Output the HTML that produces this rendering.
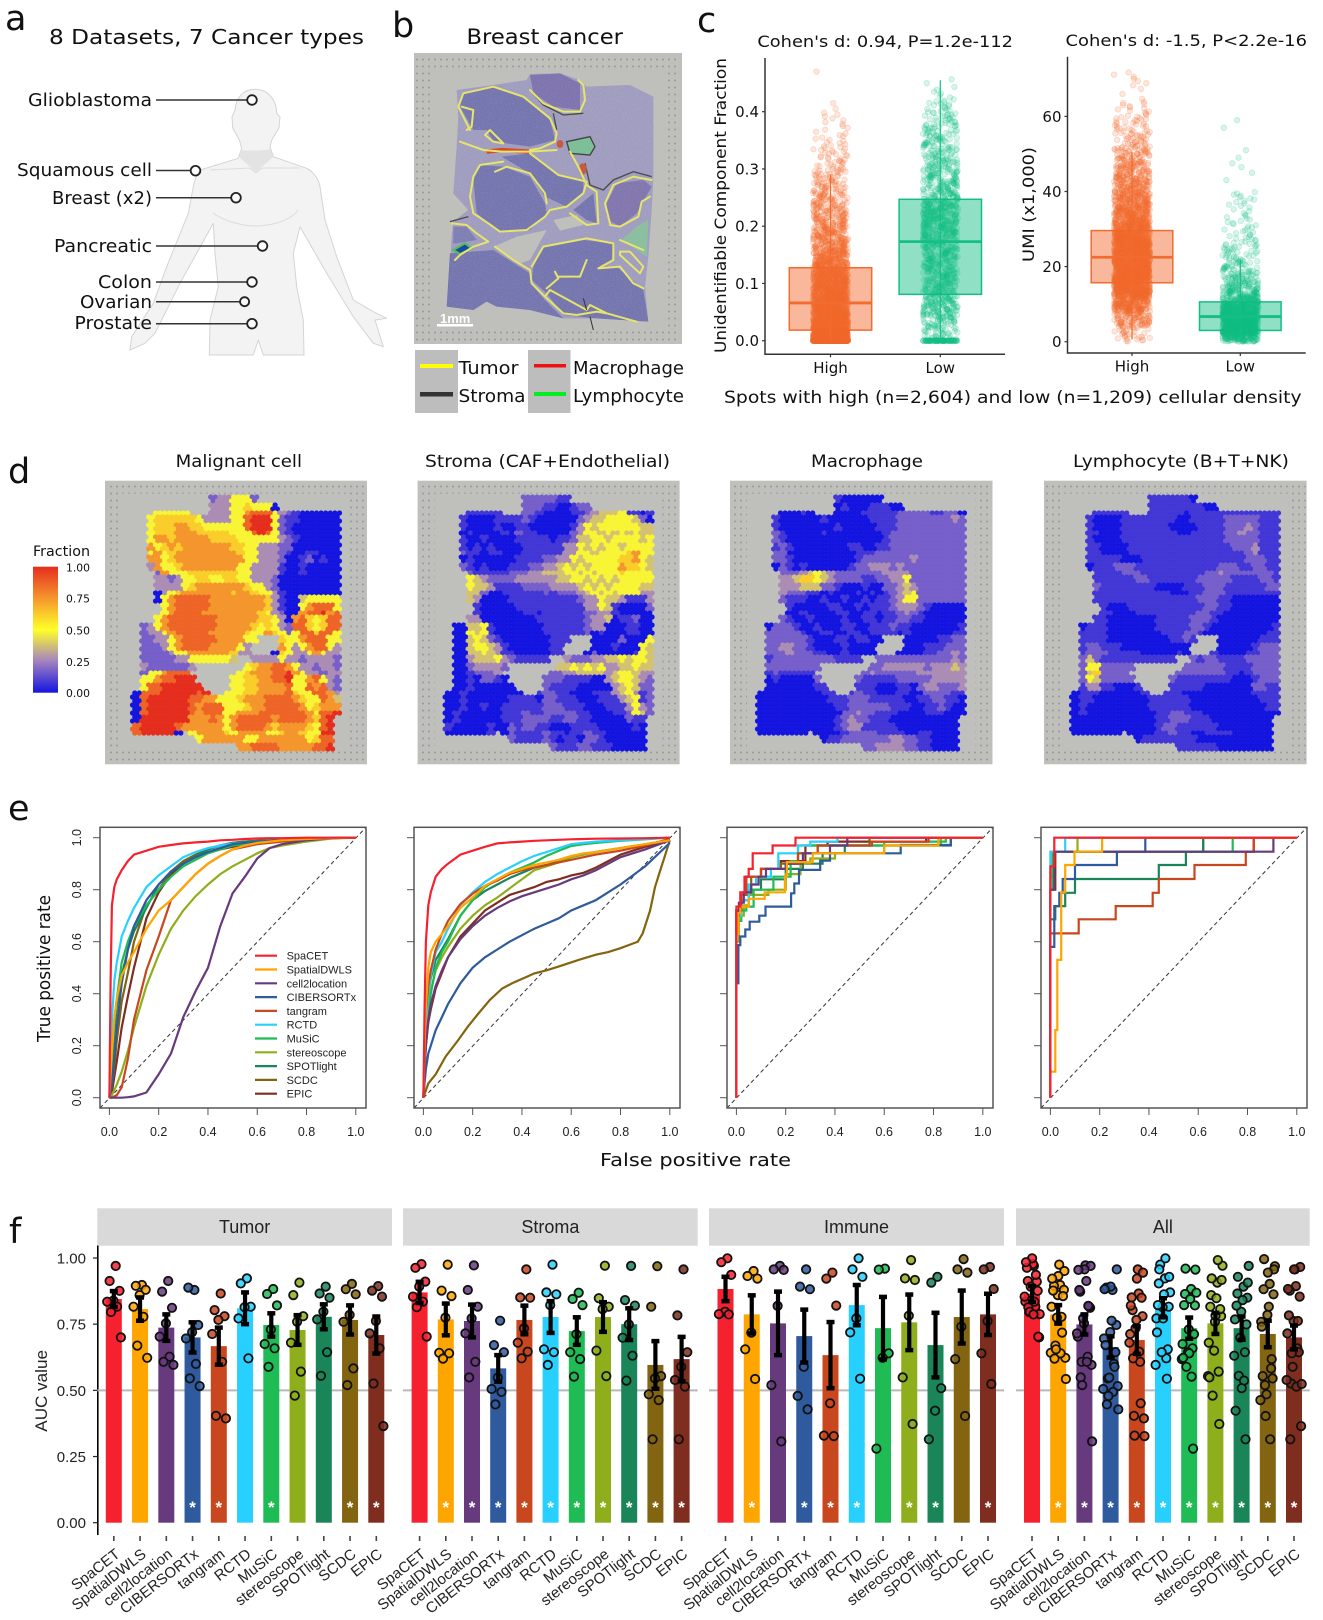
<!DOCTYPE html>
<html lang="en">
<head>
<meta charset="utf-8">
<title>SpaCET benchmark figure</title>
<style>
html,body{margin:0;padding:0;background:#fff;width:1323px;height:1620px;overflow:hidden}
svg{display:block}
.dj{font-family:"DejaVu Sans","Liberation Sans",sans-serif;fill:#111}
.ls{font-family:"Liberation Sans",sans-serif;fill:#222}
</style>
</head>
<body>
<svg id="figure" xmlns="http://www.w3.org/2000/svg" width="1323" height="1620" viewBox="0 0 1323 1620">
<defs>
<pattern id="spotdots" width="6" height="7" patternUnits="userSpaceOnUse"><circle cx="3" cy="3.500" r="1" fill="#9a9a98"/></pattern>
<linearGradient id="fracgrad" x1="0" y1="1" x2="0" y2="0">
<stop offset="0" stop-color="#1414e0"/><stop offset=".25" stop-color="#a482c0"/><stop offset=".5" stop-color="#ffff28"/><stop offset=".75" stop-color="#f5962d"/><stop offset="1" stop-color="#e52d1e"/>
</linearGradient>
<filter id="mottle" x="0" y="0" width="100%" height="100%">
<feTurbulence type="fractalNoise" baseFrequency=".45" numOctaves="2" seed="4" result="n"/>
<feColorMatrix in="n" type="matrix" values="0 0 0 0 .28  0 0 0 0 .26  0 0 0 0 .55  1.6 0 0 0 -.55" result="c"/>
<feComposite in="c" in2="SourceAlpha" operator="in"/>
</filter>
</defs>

<!-- panel letters -->
<g class="dj" font-size="35">
<text x="5" y="30">a</text>
<text x="392" y="37">b</text>
<text x="697" y="32">c</text>
<text x="8" y="483">d</text>
<text x="8" y="820">e</text>
<text x="9" y="1243">f</text>
</g>

<!-- panel a -->
<g>
<text class="dj" x="49" y="44" font-size="20" textLength="315" lengthAdjust="spacingAndGlyphs">8 Datasets, 7 Cancer types</text>
<path fill="#f3f3f3" stroke="#d4d4d4" stroke-width="1" stroke-linejoin="round" d="M255 89.300C268 89.300 276.700 100 276.700 113.300L280 117L279 128L271.700 140L270 146.700L273.300 156.700L306.700 168.300C314 172 319 180 320 186.700L325 220L336.700 256.700L353.300 300L373.300 311.700L386.700 318.300L375 320L383.300 346.700L373.300 343.300L353.300 316.700L326.700 273.300L300 226.700L293.300 253.300L296.700 286.700L303.300 320L304 355H263.300L258.300 340L253.300 355H209.300L210 320L218.300 286.700L215 253.300L213.300 223.300L180 283.300L155 333.300L145 343.300L130 350L131.700 336.700L153.300 303.300L166.700 266.700L188.300 213.300L193.300 186.700C195 178 198 173 200 170L238.300 158.300L241.700 148.300L239.300 140L232.700 128L232 117L235 110C236 98 243 89.300 255 89.300Z"/>
<path d="M240 150C246 151 264 151 270 149L273 157L256 172L240 158Z" fill="#e3e3e3"/>
<path d="M210 170L250 168L256 173L262 168L300 168M213 213C225 222 245 226 255 226C268 226 290 222 298 210" fill="none" stroke="#dcdcdc"/>
<g stroke="#333" stroke-width="1.5" fill="none">
<path d="M156 100H247"/>
<path d="M156 170.500H190.500"/>
<path d="M156 197.700H231"/>
<path d="M156 246H257.500"/>
<path d="M156 282H247"/>
<path d="M156 301.700H239.600"/>
<path d="M156 323.700H247"/>
</g>
<g fill="#fff" fill-opacity=".6" stroke="#222" stroke-width="1.8">
<circle cx="252" cy="100" r="4.800"/>
<circle cx="195.500" cy="170.700" r="4.800"/>
<circle cx="236" cy="197.700" r="4.800"/>
<circle cx="262.500" cy="246" r="4.800"/>
<circle cx="252" cy="282" r="4.800"/>
<circle cx="244.600" cy="301.700" r="4.500"/>
<circle cx="252" cy="323.700" r="4.800"/>
</g>
<g class="dj" font-size="18">
<text x="28" y="106" textLength="124" lengthAdjust="spacingAndGlyphs">Glioblastoma</text>
<text x="17" y="176" textLength="135" lengthAdjust="spacingAndGlyphs">Squamous cell</text>
<text x="52" y="204" textLength="100" lengthAdjust="spacingAndGlyphs">Breast (x2)</text>
<text x="54" y="252" textLength="98" lengthAdjust="spacingAndGlyphs">Pancreatic</text>
<text x="98" y="288" textLength="54" lengthAdjust="spacingAndGlyphs">Colon</text>
<text x="80" y="308" textLength="72" lengthAdjust="spacingAndGlyphs">Ovarian</text>
<text x="74.500" y="329" textLength="77.500" lengthAdjust="spacingAndGlyphs">Prostate</text>
</g>
</g>

<!-- panel b -->
<g>
<text class="dj" x="466.500" y="44" font-size="21" textLength="156.500" lengthAdjust="spacingAndGlyphs">Breast cancer</text>
<rect x="414" y="53" width="268" height="291" fill="#bfbfbb"/>
<rect x="416" y="55" width="264" height="287" fill="url(#spotdots)"/>
<rect x="432" y="71" width="232" height="256" fill="#bfbfbb"/>
<g transform="translate(430 70) scale(.33333)">
<path id="tissueOutline" fill="#a7a5bf" d="M80 60L190 45L290 30L300 12L390 10L450 30L470 50L600 45L670 80L670 320L665 420L655 560L645 650L655 755L500 745L400 745L300 720L200 710L170 695L130 720L50 710L60 600L65 500L70 455L115 420L70 370L80 230L85 140Z"/>
<g fill="#6f71aa">
<path d="M100 70L190 50L280 80L360 150L375 210L300 230L190 215L170 180L130 180L90 110Z"/>
<path d="M130 330L150 285L220 290L300 320L345 400L350 430L300 480L210 485L140 430Z"/>
<path d="M215 260L300 250L380 315L460 330L460 370L410 410L345 380L300 310Z"/>
<path d="M60 550L190 540L300 610L310 650L345 690L400 745L300 720L200 710L170 695L130 720L50 710Z"/>
<path d="M310 590L340 530L460 510L550 520L545 570L510 590L560 590L640 660L655 755L500 745L400 735L350 670L305 630Z"/>
<path d="M530 400L560 340L640 330L665 350L620 430L570 470L535 450Z" fill="#7f72a8"/>
<path d="M300 15L390 10L450 40L450 120L370 110L310 70Z" fill="#7c6fa8"/>
<path d="M70 470L110 470L140 510L80 520L70 520Z" fill="#7c7db0"/>
<path d="M430 420L490 370L500 460L470 450Z"/>
</g>
<path d="M80 60L190 45L290 30L300 12L390 10L450 30L470 50L600 45L670 80L670 320L665 420L655 560L645 650L655 755L500 745L400 745L300 720L200 710L170 695L130 720L50 710L60 600L65 500L70 455L115 420L70 370L80 230L85 140Z" filter="url(#mottle)"/>
<path d="M190 530L260 500L350 480L300 570L265 582L230 560Z" fill="#bfbfbb"/>
<path d="M370 450L440 435L460 465L390 482Z" fill="#bfbfbb"/>
<path d="M410 215L480 200L495 230L480 255L420 250Z" fill="#7cbf98" stroke="#444" stroke-width="4"/>
<path d="M575 510L650 560L655 450L620 470Z" fill="#8cbf9f"/>
<path d="M70 540L105 520L125 535L90 552Z" fill="#1a4aa0" stroke="#4fbf60" stroke-width="6"/>
<path d="M60 455L115 440M370 130L380 180M465 280L480 345L520 360L550 330L610 305L665 320M300 60L340 105L400 135L460 130" fill="none" stroke="#4a4a4a" stroke-width="4"/>
<path d="M170 245L215 240L300 245" fill="none" stroke="#d94a20" stroke-width="13"/>
<ellipse cx="390" cy="222" rx="10" ry="12" fill="#c85a45"/>
<ellipse cx="458" cy="297" rx="12" ry="17" fill="#c85a45"/>
<path fill="none" stroke="#e6e46a" stroke-width="6" stroke-linejoin="round" stroke-linecap="round" d="M120 180L85 110L100 70L190 50L280 80L360 145L380 190L375 215L330 235L300 240M95 110L130 120L125 170L110 180M300 60L340 100L400 125L450 125L465 90L460 45L445 30M90 215L160 240L215 245L300 245L380 240M165 195L180 180L220 220L190 215ZM195 305L230 290L300 310L345 370L350 400M130 320L120 380L130 430L175 460L210 485L290 480L345 440L360 420L410 410L460 370L470 335L385 315L300 250M150 285L130 320M150 285L220 275M420 245L445 290L470 345L500 365L505 460L470 465L420 430M540 460L525 400L550 345L610 320L665 330M540 465L570 470L625 440L635 395L660 380M65 460L110 465L140 490L175 515L130 530L90 555L75 570M195 530L250 570L300 600L305 640L345 680L400 730L440 735L500 725L530 730L620 755M305 590L340 530L470 505L550 520L550 570L505 595L570 590L610 640L640 655M375 605L385 625L350 655M385 620L450 620L470 570M345 680L360 660L470 720L480 705L530 730M570 545L600 545L640 590L630 610L570 555ZM570 510L640 540"/>
<path d="M460 685L470 720M480 740L490 780" fill="none" stroke="#333" stroke-width="3"/>
</g>
<text x="440" y="323" font-family="Liberation Sans, sans-serif" font-weight="bold" font-size="13" fill="#fff">1mm</text>
<rect x="437" y="324" width="36" height="2.500" fill="#fff"/>
<rect x="415" y="350" width="43" height="63" fill="#bdbdbd"/>
<rect x="528" y="350" width="42.500" height="63" fill="#bdbdbd"/>
<rect x="420" y="364" width="33" height="4" fill="#ffff00"/>
<rect x="420" y="392" width="33" height="4.500" fill="#333"/>
<rect x="534" y="364" width="32" height="3.500" fill="#ee1111"/>
<rect x="534" y="392" width="32" height="4" fill="#00ee22"/>
<g class="dj" font-size="18">
<text x="458.500" y="374" textLength="60" lengthAdjust="spacingAndGlyphs">Tumor</text>
<text x="458.500" y="402" textLength="67" lengthAdjust="spacingAndGlyphs">Stroma</text>
<text x="573" y="374" textLength="111" lengthAdjust="spacingAndGlyphs">Macrophage</text>
<text x="573" y="402" textLength="111" lengthAdjust="spacingAndGlyphs">Lymphocyte</text>
</g>
</g>

<!-- panel c -->
<g id="panelC">
<text class="dj" x="757.400" y="47" font-size="16" textLength="255.600" lengthAdjust="spacingAndGlyphs">Cohen's d: 0.94, P=1.2e-112</text>
<text class="dj" x="1065.500" y="46" font-size="16" textLength="241.500" lengthAdjust="spacingAndGlyphs">Cohen's d: -1.5, P&lt;2.2e-16</text>
<text class="dj" transform="translate(726 353) rotate(-90)" font-size="16" textLength="295" lengthAdjust="spacingAndGlyphs">Unidentifiable Component Fraction</text>
<text class="dj" transform="translate(1034 262) rotate(-90)" font-size="16" textLength="115" lengthAdjust="spacingAndGlyphs">UMI (x1,000)</text>
<text class="dj" x="724" y="403" font-size="17" textLength="577.600" lengthAdjust="spacingAndGlyphs">Spots with high (n=2,604) and low (n=1,209) cellular density</text>
</g>

<!-- panel d -->
<g id="panelD">
<g class="dj" font-size="16.500">
<text x="175.600" y="467" textLength="126.400" lengthAdjust="spacingAndGlyphs">Malignant cell</text>
<text x="425" y="467" textLength="245" lengthAdjust="spacingAndGlyphs">Stroma (CAF+Endothelial)</text>
<text x="811" y="467" textLength="112" lengthAdjust="spacingAndGlyphs">Macrophage</text>
<text x="1073" y="467" textLength="216" lengthAdjust="spacingAndGlyphs">Lymphocyte (B+T+NK)</text>
</g>
<text class="dj" x="33" y="556" font-size="14" textLength="57" lengthAdjust="spacingAndGlyphs">Fraction</text>
<rect x="33" y="566.700" width="25" height="126" fill="url(#fracgrad)"/>
<g class="dj" font-size="11">
<text x="66" y="571.500" textLength="24" lengthAdjust="spacingAndGlyphs">1.00</text>
<text x="66" y="602.500" textLength="24" lengthAdjust="spacingAndGlyphs">0.75</text>
<text x="66" y="634.500" textLength="24" lengthAdjust="spacingAndGlyphs">0.50</text>
<text x="66" y="666" textLength="24" lengthAdjust="spacingAndGlyphs">0.25</text>
<text x="66" y="697" textLength="24" lengthAdjust="spacingAndGlyphs">0.00</text>
</g>
</g>

<!-- panel e -->
<g id="panelE">
<text class="dj" transform="translate(50 1042) rotate(-90)" font-size="17.500" textLength="147" lengthAdjust="spacingAndGlyphs">True positive rate</text>
<text class="dj" x="600" y="1166" font-size="18" textLength="191" lengthAdjust="spacingAndGlyphs">False positive rate</text>
</g>

<!-- panel f -->
<g id="panelF">
<text class="ls" transform="translate(47 1431.700) rotate(-90)" font-size="17" textLength="81.700" lengthAdjust="spacingAndGlyphs">AUC value</text>
</g>

<script>
const NS = 'http://www.w3.org/2000/svg';

/* ---------- panel c data: spot counts per value bin, read from the jitter density ---------- */
const fractionHighBins = [680,300,270,230,200,180,150,120,90,80,65,55,45,35,28,18,16,10,6,6,2,0,0,1];
const fractionLowBins = [30,40,65,70,60,60,60,65,65,80,85,80,60,55,50,45,35,35,28,22,15,6,3];
const fractionHighZeroSpots = 400;
const fractionLowZeroSpots = 90;
const fractionBinWidths = [0.02,0.02];
const umiHighBins = [30,90,190,350,340,300,340,260,190,150,115,85,60,35,25,14,3,7];
const umiLowBins = [110,240,190,170,140,90,60,45,35,25,20,15,15,10,8,7,6,4,6,6,0,1,1,2,1,1,0,0,1,1];
const umiBinWidths = [4,2];
const boxCategories = ['High','Low'];
const fractionBoxStats = [[0,0.0185,0.066,0.1275,0.29],[0,0.081,0.173,0.247,0.455]];
const umiBoxStats = [[0.6,15.7,22.5,29.6,50.6],[0.8,3,6.7,10.6,21.8]];
const fractionTicks = [0,0.1,0.2,0.3,0.4];
const umiTicks = [0,20,40,60];

/* ---------- panel d data: coarse spatial grids, digit indexes digitFractions ---------- */
const digitFractions = [0,.08,.17,.27,.38,.48,.62,.75,.87,1];
const tissueMask = [
"...........#######............",
"...........##########.........",
"...#####...###################",
"..############################",
"..############################",
"..############################",
"..############################",
"..############################",
"..############################",
"..############################",
"..############################",
"...###########################",
"...###########################",
"...###########################",
"...###########################",
"...###########################",
"....##########################",
"....##########################",
"...###########################",
".#############################",
".#############################",
".#################...#########",
".################....#########",
".################...##########",
".##############..#############",
".########.......##############",
".#######.......###############",
".########.....################",
".#########....################",
"###########..#################",
"##############################",
"##############################",
"##############################",
"#############################.",
"#############################.",
"#######.#####################.",
".........####################.",
"...............##############."];
const malignantMap = [
"000000000002335552000000000000",
"000000000003335565550000000000",
"000555550003335578885321000000",
"005666666533335589995211000000",
"005666776655555589995210000000",
"005666777666665558985210000000",
"005776777776666555555321000000",
"007567677777776655333220000000",
"005756777777777655333210011000",
"007756777777777755333200120100",
"003755677777777553333100100000",
"000275556666666553333100100000",
"000332355665566553332000000000",
"000333356777777765532000000000",
"000035677777776776553100000000",
"000057888887777777763100455555",
"000057888887777777763100578885",
"000657888877777777653200788978",
"000578888888777777665307865688",
"023578888888777776565328865688",
"023357888887777765576525886885",
"022335788888777755007655788855",
"022235788887777530000753578853",
"022223557777776330000653357533",
"022222335555554433333533233332",
"032222223000000056778875332332",
"025578880000000567778897533233",
"055788999000005566778895578532",
"058899999900005566777785587832",
"088899999890055566777786558873",
"089999998877555677788887655874",
"089999998788855567788888756777",
"089999998788855777888888875889",
"099999997778757888887888876899",
"899999877777757888876777765899",
"899999005777765777755677655999",
"000000000577777755777777756889",
"000000000000000778888777778899"];
const stromaMap = [
"000000000002222211000000000000",
"000000000002221100122000000000",
"000111110002210000112344451101",
"001000011112100000023445555420",
"001000010011000000135455555544",
"000100001021100000235545454544",
"001001000011111011244554555545",
"001010100001111113354545545555",
"002110110001111113355455556755",
"000100000011112233545555566754",
"002101000111223345454555576654",
"003211111222334445545455565555",
"004543222233333344554545455555",
"005544311112222333345454555544",
"004442001111112122234545455533",
"002430000111111111123354431113",
"001310000011111111113354100002",
"000310000001101111112233100000",
"000330000000011111112334011200",
"000445100000001111112330001100",
"000545100000001111112010001100",
"000454210000000111010000020005",
"000455431000000111000000100054",
"000445431100000110000200000154",
"000344453211111223222334454554",
"000233332000000044545453344544",
"000122230000000223344443455433",
"000102210000012221111003455432",
"000100000000012111100000345422",
"001000000000012211000111345312",
"001000000111102211100011134512",
"001001001111112221110001113532",
"010000001112112222211000112542",
"010000001112222112211000002112",
"100000100212211000111100000100",
"000000100211112110112110000000",
"000000000211112101102210000000",
"000000000000000211122111000000"];
const macrophageMap = [
"000000000001000000000000000000",
"000000000000100011100000000000",
"000000100010000111112222211220",
"001000000100000011112222222232",
"001000000001000001112222222222",
"002100000100000000122222222222",
"002100000000000000122222222222",
"001210000000011001122222222222",
"002200000000001112222222222222",
"002210000000001222222232222222",
"000210100000012233323222222222",
"000222345432222222333322222222",
"003334665432222112233522222222",
"002333444221000100223432222222",
"000322211010001010123452222222",
"000211100100100101123552222222",
"000210000011001011123332100000",
"000100100001100110112321000000",
"000210010000100110112211000000",
"002221001000110011121100000001",
"022222100110011011110100000011",
"022222210001101100110000001122",
"022332210000100000000000111222",
"022232221100100000000000112232",
"012222222221111222222222222232",
"022222222222222322333333233343",
"012111112222222232222223333333",
"001000002222212111112222233333",
"000000001112111110001102332223",
"000000000111212110001100222211",
"000000000011122211111001122110",
"000000000001122222211100112100",
"000000000000223221110000111000",
"000000000001232211100000000000",
"000000000001233111110000000000",
"000000000000122221111001100000",
"000000000011222222233221100000",
"000000000000000223333221100000"];
const lymphocyteMap = [
"000000000001111110000000000000",
"000000000001111111100000000000",
"000111110001111101111111111111",
"001000011111111001111122222111",
"001000011111110000111122232111",
"001100011111111001111122322111",
"001000011111111111111122222111",
"001100001111111111111112223111",
"001100001111111111111111123111",
"001111100011111111111111122211",
"000111222111111111111222112211",
"001111122211111111122322222221",
"001111111221111111222221111221",
"001211111111000011122211111122",
"000111111111110001122211111111",
"000111111111111111222110000000",
"000110001111111111122110000000",
"000011000111111111221100000000",
"000110000000111112221000000000",
"001110000000111112210000000001",
"011110000000011122100000000011",
"011110000000001121000000000111",
"012211100000000000001000001222",
"012221111100000100011000011222",
"024211111111111222122111122222",
"025522222111111122222211112222",
"024622222222222222222211012222",
"025422222222222111111110001222",
"013311000111211111100000002211",
"011100000011111100000000001111",
"011000000001111110000000000111",
"010000000001111110000000000011",
"010000000000112211100000000000",
"000000000000112221110000000000",
"000000000000122111111000000000",
"000000000000112110011110000000",
"000000000011111111000000000000",
"000000000000000111111000000000"];

/* ---------- methods ---------- */
const methods = ['SpaCET','SpatialDWLS','cell2location','CIBERSORTx','tangram','RCTD','MuSiC','stereoscope','SPOTlight','SCDC','EPIC'];
const methodColors = ['#f6212f','#ffa500','#673a7d','#2f5a9e','#c8471f','#28d0ff','#1fbb55','#8fae1b','#198559','#836410','#7e2d1f'];

/* ---------- panel e data ---------- */
const rocFprGrid = [0,.005,.01,.02,.03,.05,.075,.1,.15,.2,.25,.3,.35,.4,.45,.5,.55,.6,.65,.7,.8,.9,1];
const rocTprPlot1 = [
[0,.45,.74,.81,.84,.875,.91,.935,.95,.965,.972,.978,.982,.985,.99,.992,.995,.997,.998,.998,1,1,1],
[0,.1,.18,.3,.38,.47,.52,.56,.65,.72,.76,.81,.86,.9,.93,.955,.97,.98,.985,.99,.995,.999,1],
[0,0,0,0,0,0,.002,.005,.02,.09,.17,.31,.41,.5,.66,.786,.85,.92,.96,.975,.99,.998,1],
[0,.02,.05,.15,.27,.44,.57,.66,.76,.82,.87,.9,.925,.945,.96,.975,.98,.985,.988,.99,.995,.999,1],
[0,0,0,.005,.01,.04,.15,.3,.49,.62,.76,.81,.86,.9,.93,.955,.965,.975,.98,.985,.993,.999,1],
[0,.15,.3,.45,.52,.62,.68,.73,.81,.855,.89,.925,.945,.96,.97,.977,.98,.985,.988,.99,.995,.999,1],
[0,.08,.15,.3,.38,.52,.6,.66,.74,.8,.85,.89,.915,.94,.955,.97,.975,.98,.985,.99,.995,.999,1],
[0,.005,.01,.03,.05,.1,.18,.27,.43,.55,.65,.72,.775,.82,.86,.89,.915,.94,.96,.97,.985,.997,1],
[0,.05,.12,.25,.35,.47,.57,.64,.73,.82,.87,.9,.93,.955,.97,.98,.985,.988,.99,.992,.995,.999,1],
[0,.02,.05,.12,.22,.37,.48,.6,.74,.8,.87,.91,.935,.955,.97,.98,.985,.988,.99,.992,.995,.999,1],
[0,.005,.02,.08,.14,.27,.39,.5,.69,.79,.86,.9,.925,.945,.955,.965,.975,.98,.985,.99,.995,.999,1]];
const rocTprPlot2 = [
[0,.35,.6,.74,.79,.85,.88,.9,.935,.95,.965,.978,.982,.985,.988,.99,.992,.994,.995,.996,.997,.998,1],
[0,.2,.35,.5,.56,.6,.63,.66,.73,.77,.815,.84,.865,.88,.895,.905,.915,.93,.94,.945,.96,.975,.99],
[0,.1,.2,.3,.36,.43,.49,.54,.61,.66,.7,.73,.755,.775,.79,.805,.82,.84,.855,.875,.925,.955,.99],
[0,.06,.11,.17,.2,.26,.31,.36,.44,.5,.54,.57,.6,.625,.65,.67,.69,.72,.74,.76,.82,.89,.98],
[0,.2,.33,.43,.49,.57,.63,.68,.745,.785,.815,.835,.86,.875,.885,.895,.905,.915,.925,.935,.95,.97,.995],
[0,.15,.28,.4,.47,.56,.6,.65,.74,.79,.83,.86,.885,.91,.93,.945,.96,.975,.98,.985,.99,.995,1],
[0,.12,.22,.33,.4,.5,.56,.6,.7,.76,.81,.84,.865,.885,.905,.93,.95,.968,.975,.98,.988,.994,1],
[0,.15,.25,.35,.41,.49,.54,.58,.65,.7,.74,.77,.805,.84,.875,.89,.905,.925,.935,.945,.96,.975,.99],
[0,.18,.3,.4,.46,.53,.57,.61,.7,.76,.795,.82,.845,.865,.885,.895,.91,.925,.935,.945,.96,.975,.99],
[],
[0,.12,.2,.29,.34,.42,.48,.54,.62,.67,.72,.75,.78,.795,.81,.83,.84,.855,.865,.885,.935,.965,.99]];
const rocScdcFprPlot2 = [0,.02,.05,.09,.14,.18,.22,.27,.32,.36,.42,.45,.5,.55,.63,.7,.75,.8,.87,.89,.92,.94,.96,.98,1];
const rocScdcTprPlot2 = [0,.055,.09,.158,.22,.273,.32,.376,.42,.44,.465,.478,.49,.505,.53,.55,.56,.575,.6,.632,.72,.81,.87,.93,.99];
const rocStepFprPlot3 = [
[0,.016,.033,.05,.066,.147,.24],
[0,.008,.016,.05,.115,.197,.205,.31,.6,.82],
[0,.01,.03,.06,.09,.12,.2,.27,.38,.45],
[0,.008,.016,.036,.054,.093,.118,.222,.235,.254,.34,.38,.667,.87],
[0,.02,.04,.1,.2,.25,.33,.55,.78],
[0,.02,.05,.08,.14,.17,.25,.3,.41],
[0,.02,.04,.07,.15,.22,.25,.6,.85],
[0,.01,.03,.05,.13,.2,.26,.3,.4,.6,.83],
[0,.02,.05,.1,.2,.27,.35,.44,.87],
[0,.02,.06,.1,.18,.25,.33,.54],
[0,.02,.04,.1,.18,.28,.37,.77]];
const rocStepTprPlot3 = [
[.735,.79,.85,.88,.94,.97,1],
[.63,.71,.735,.765,.79,.85,.906,.94,.97,1],
[.7,.75,.79,.82,.85,.88,.9,.94,.97,1],
[.44,.587,.62,.647,.677,.7,.735,.786,.824,.876,.912,.94,.972,1],
[.72,.78,.85,.88,.9,.94,.97,.985,1],
[.7,.76,.82,.85,.88,.94,.97,.985,1],
[.68,.72,.735,.8,.85,.91,.97,.985,1],
[.6,.7,.74,.78,.8,.86,.9,.92,.94,.97,1],
[.72,.76,.8,.84,.88,.9,.94,.97,1],
[.72,.78,.85,.88,.9,.94,.97,1],
[.72,.78,.85,.88,.91,.97,.985,1]];
const rocStepFprPlot4 = [
[0,.016],
[0,.02,.028,.044,.06,.098,.21],
[0,.016,.905],
[0,.016,.036,.05,.1,.27,.385],
[0,.115,.265,.415,.44,.585,.793,.825],
[0,.06],
[0,.01,.74],
[0,.01,.11],
[0,.02,.06,.1,.44,.55,.62],
[0,.01,.62],
[0,.02,.825]];
const rocStepTprPlot4 = [
[.89,1],
[.1,.26,.53,.79,.895,.946,1],
[.8,.946,1],
[.58,.737,.788,.841,.895,.946,1],
[.632,.686,.737,.788,.841,.895,.946,1],
[.946,1],
[.8,.946,1],
[.85,.946,1],
[.686,.737,.788,.841,.895,.946,1],
[.8,.946,1],
[.8,.946,1]];
const rocTicks = [0,.2,.4,.6,.8,1];

/* ---------- panel f data ---------- */
const facetNames = ['Tumor','Stroma','Immune','All'];
const aucTicks = [0,.25,.5,.75,1];
const tumorMeans = [.845,.807,.737,.70,.667,.81,.747,.728,.778,.766,.709];
const stromaMeans = [.87,.768,.762,.583,.766,.777,.724,.777,.75,.596,.618];
const immuneMeans = [.883,.787,.753,.705,.633,.822,.735,.757,.671,.777,.787];
const allMeans = [.864,.787,.749,.664,.69,.812,.735,.753,.735,.713,.70];
const tumorErrors = [.03,.044,.05,.057,.07,.06,.044,.056,.047,.055,.07];
const stromaErrors = [.04,.06,.062,.05,.054,.06,.052,.056,.06,.09,.084];
const immuneErrors = [.046,.072,.12,.1,.125,.076,.118,.105,.122,.10,.078];
const allErrors = [.03,.035,.038,.04,.052,.036,.04,.04,.044,.05,.045];
const tumorStars = [0,0,0,1,1,0,1,0,0,1,1];
const stromaStars = [0,1,1,1,1,1,1,1,1,1,1];
const immuneStars = [0,1,0,1,1,1,0,1,1,0,1];
const allStars = [0,1,1,1,1,1,1,1,1,1,1];
const tumorDots = [
[.97,.913,.876,.839,.835,.816,.796,.70],
[.898,.895,.88,.86,.816,.778,.669,.623],
[.913,.873,.812,.753,.703,.627,.608,.596],
[.879,.888,.747,.72,.696,.6,.545,.516],
[.866,.803,.78,.766,.713,.608,.404,.394],
[.923,.904,.816,.814,.772,.621],
[.883,.864,.821,.73,.675,.659,.589],
[.907,.86,.78,.759,.68,.571,.48],
[.892,.866,.85,.797,.768,.644,.555],
[.902,.882,.863,.785,.759,.583,.52],
[.894,.877,.854,.762,.715,.659,.526,.365]];
const stromaDots = [
[.977,.963,.911,.892,.854,.835,.814,.703],
[.975,.877,.856,.775,.642,.64,.62],
[.972,.879,.816,.772,.715,.608,.549],
[.763,.671,.644,.548,.505,.494,.447],
[.957,.851,.85,.734,.68,.646,.621],
[.975,.87,.863,.822,.655,.644,.596],
[.869,.845,.822,.712,.644,.618,.552],
[.971,.848,.816,.807,.65,.554],
[.97,.841,.82,.749,.699,.631,.537],
[.969,.816,.554,.545,.485,.463,.315],
[.957,.783,.644,.589,.539,.514,.315]];
const immuneDots = [
[.999,.984,.936,.797,.788,.787],
[.951,.932,.922,.718,.655,.543],
[.97,.957,.955,.819,.52,.307],
[.957,.892,.882,.589,.479,.428],
[.945,.922,.82,.451,.329,.327],
[.999,.957,.929,.772,.719,.544],
[.96,.956,.64,.623,.28],
[.992,.923,.917,.782,.549,.373],
[.929,.907,.508,.423,.315],
[.996,.957,.945,.741,.618,.403],
[.966,.957,.883,.762,.64,.524]];

/* ---------- helpers ---------- */
function mk(tag, attrs, name, parent){
  const el = document.createElementNS(NS, tag);
  for (const k in attrs) el.setAttribute(k, attrs[k]);
  
  
  parent.appendChild(el);
  return el;
}
function label(str, attrs, name, parent){
  const t = mk('text', attrs, name, parent);
  t.textContent = str;
  return t;
}
function slug(s){ return String(s).toLowerCase().replace(/[^a-z0-9]+/g,'-'); }
function frac(v){ return v - Math.floor(v); }
/* deterministic horizontal jitter for a dot index; positions only, never values */
function scatter(n){ return frac(Math.sin(n * 12.9898 + 4.1) * 43758.5453); }

/* ---------- panel c ---------- */
function drawBoxPlot(cfg){
  const root = document.getElementById('panelC');
  const g = mk('g', {}, cfg.name, root);
  const y = v => cfg.y0 - v * cfg.yPerUnit;
  const colors = ['#f26b2f','#14bf85'];
  cfg.stats.forEach((s, i) => {
    const cx = cfg.centers[i], c = colors[i], group = slug(boxCategories[i]);
    const gg = mk('g', {}, cfg.name + '-group-' + group, g);
    mk('rect', {x:cx-cfg.halfBox, y:y(s[3]), width:cfg.halfBox*2, height:y(s[1])-y(s[3]), fill:c, 'fill-opacity':.48, stroke:c, 'stroke-width':1.5}, 'box-' + group, gg);
    let n = 0;
    const dots = mk('g', {fill:c, 'fill-opacity':.17, stroke:c, 'stroke-opacity':.24, 'stroke-width':.7}, 'jitter-dots-' + group, gg);
    const place = v => {
      const off = (scatter(n + i * 5000) - .5) * 2 * cfg.halfJitter;
      mk('circle', {cx:(cx+off).toFixed(1), cy:y(v).toFixed(1), r:2.8}, 'spot-dot', dots);
      n++;
    };
    for (let z = 0; z < cfg.zeros[i]; z++) place(0);
    cfg.bins[i].forEach((count, b) => {
      for (let k = 0; k < count; k++) place((b + (k + .5) / count) * cfg.binWidths[i]);
    });
    mk('line', {x1:cx, x2:cx, y1:y(s[0]), y2:y(s[4]), stroke:c, 'stroke-width':1.2}, 'whisker-' + group, gg);
    mk('line', {x1:cx-cfg.halfBox, x2:cx+cfg.halfBox, y1:y(s[2]), y2:y(s[2]), stroke:c, 'stroke-width':2.8}, 'median-' + group, gg);
  });
  mk('path', {d:`M${cfg.axisX} ${cfg.top}V${cfg.bottom}H${cfg.right}`, fill:'none', stroke:'#333', 'stroke-width':1.5}, cfg.name + '-axes', g);
  cfg.ticks.forEach(t => {
    mk('line', {x1:cfg.axisX-3, x2:cfg.axisX, y1:y(t), y2:y(t), stroke:'#333', 'stroke-width':1.2}, 'y-tick', g);
    label(cfg.fmt(t), {x:cfg.axisX-6, y:y(t)+5.5, 'text-anchor':'end', 'font-size':15, class:'dj'}, 'y-tick-label', g);
  });
  boxCategories.forEach((c, i) => {
    mk('line', {x1:cfg.centers[i], x2:cfg.centers[i], y1:cfg.bottom, y2:cfg.bottom+3, stroke:'#333', 'stroke-width':1.2}, 'x-tick', g);
    label(c, {x:cfg.centers[i], y:cfg.bottom+18.5, 'text-anchor':'middle', 'font-size':15, class:'dj'}, 'x-tick-label-' + slug(c), g);
  });
}
drawBoxPlot({name:'boxplot-fraction', y0:340.7, yPerUnit:572.5, centers:[830.5,940.3], halfBox:41.2, halfJitter:17.5,
  stats:fractionBoxStats, bins:[fractionHighBins,fractionLowBins], zeros:[fractionHighZeroSpots,fractionLowZeroSpots], binWidths:fractionBinWidths,
  axisX:765, top:58, bottom:354.3, right:1005, ticks:fractionTicks, fmt:v=>v.toFixed(1)});
drawBoxPlot({name:'boxplot-umi', y0:341.7, yPerUnit:3.755, centers:[1132,1240.3], halfBox:40.8, halfJitter:18,
  stats:umiBoxStats, bins:[umiHighBins,umiLowBins], zeros:[0,0], binWidths:umiBinWidths,
  axisX:1067.5, top:56.7, bottom:353, right:1305.7, ticks:umiTicks, fmt:v=>String(v)});

/* ---------- panel d ---------- */
const fractionStops = [[20,20,224],[164,130,192],[255,255,40],[245,150,45],[229,45,30]];
function fractionColor(v){
  const p = Math.min(3.999, v * 4), i = Math.floor(p), t = p - i;
  const a = fractionStops[i], b = fractionStops[i+1];
  return `rgb(${Math.round(a[0]+(b[0]-a[0])*t)},${Math.round(a[1]+(b[1]-a[1])*t)},${Math.round(a[2]+(b[2]-a[2])*t)})`;
}
function drawSpatial(name, map, ox, w){
  const root = document.getElementById('panelD');
  const g = mk('g', {}, 'spatial-map-' + name, root);
  const oy = 480.7, h = 283.6;
  mk('rect', {x:ox, y:oy, width:w, height:h, fill:'#bfbfbb'}, 'slide-background', g);
  mk('rect', {x:ox+1, y:oy+1, width:w-2, height:h-2, fill:'url(#spotdots)'}, 'slide-fiducial-dots', g);
  mk('rect', {x:ox+17, y:oy+13, width:w-34, height:h-26, fill:'#bfbfbb'}, 'slide-inner-area', g);
  const spots = mk('g', {}, name + '-spots', g);
  const colW = 6.93, rowH = 6.66, dx = 27.5, dy = 16.3;
  for (let row = 0, yy = 0; yy < 254; row++, yy += 4) {
    for (let xx = (row % 2) * 2.3; xx < 208; xx += 4.6) {
      const r = Math.floor(yy / rowH), c = Math.floor(xx / colW);
      if (!tissueMask[r] || tissueMask[r][c] !== '#') continue;
      const v = digitFractions[Number(map[r][c])];
      mk('circle', {cx:(ox+dx+xx).toFixed(1), cy:(oy+dy+yy).toFixed(1), r:2.6, fill:fractionColor(v)}, 'spot', spots);
    }
  }
}
drawSpatial('malignant', malignantMap, 105, 262);
drawSpatial('stroma', stromaMap, 417.6, 262);
drawSpatial('macrophage', macrophageMap, 730, 262.5);
drawSpatial('lymphocyte', lymphocyteMap, 1044, 262.6);

/* ---------- panel e ---------- */
function drawRoc(idx, left, fprFor, tprFor, stepped, showY){
  const root = document.getElementById('panelE');
  const g = mk('g', {}, 'roc-plot-' + (idx+1), root);
  const x0 = left + 9.4, top = 837.7, bottom = 1097.7, pxX = 246.4, pxY = 260;
  const x = v => x0 + v * pxX, y = v => bottom - v * pxY;
  const boxR = left + 266, boxT = 827.3, boxB = 1108;
  mk('line', {x1:left, y1:boxB, x2:boxR, y2:boxT, stroke:'#333', 'stroke-width':1, 'stroke-dasharray':'4 3'}, 'chance-diagonal', g);
  for (let m = methods.length - 1; m >= 0; m--) {
    const fs = fprFor(m), ts = tprFor(m);
    let d = stepped ? `M${x(0)} ${y(0)}` : '';
    fs.forEach((f, i) => {
      if (stepped) {
        d += `L${x(f).toFixed(1)} ${y(i ? ts[i-1] : 0).toFixed(1)}L${x(f).toFixed(1)} ${y(ts[i]).toFixed(1)}`;
      } else {
        d += `${i ? 'L' : 'M'}${x(f).toFixed(1)} ${y(ts[i]).toFixed(1)}`;
      }
    });
    if (stepped) d += `L${x(1)} ${y(1)}`;
    mk('path', {d, fill:'none', stroke:methodColors[m], 'stroke-width':2.2, 'stroke-linejoin':'miter'}, 'roc-curve-' + slug(methods[m]), g);
  }
  mk('rect', {x:left, y:boxT, width:266, height:boxB-boxT, fill:'none', stroke:'#555', 'stroke-width':1.5}, 'roc-frame', g);
  rocTicks.forEach(t => {
    mk('line', {x1:x(t), x2:x(t), y1:boxB, y2:boxB+7, stroke:'#555', 'stroke-width':1}, 'x-tick', g);
    label(t.toFixed(1), {x:x(t), y:1136, 'text-anchor':'middle', 'font-size':12.5, class:'ls'}, 'x-tick-label', g);
    mk('line', {x1:left-7, x2:left, y1:y(t), y2:y(t), stroke:'#555', 'stroke-width':1}, 'y-tick', g);
    if (showY) label(t.toFixed(1), {transform:`translate(81 ${y(t)}) rotate(-90)`, 'text-anchor':'middle', 'font-size':12.5, class:'ls'}, 'y-tick-label', g);
  });
  return g;
}
const plot1 = drawRoc(0, 100, () => rocFprGrid, m => rocTprPlot1[m], false, true);
drawRoc(1, 414, m => m === 9 ? rocScdcFprPlot2 : rocFprGrid, m => m === 9 ? rocScdcTprPlot2 : rocTprPlot2[m], false, false);
drawRoc(2, 727, m => rocStepFprPlot3[m], m => rocStepTprPlot3[m], true, false);
drawRoc(3, 1041, m => rocStepFprPlot4[m], m => rocStepTprPlot4[m], true, false);
const legendGroup = mk('g', {}, 'roc-legend', plot1);
methods.forEach((name, i) => {
  const yy = 955.7 + i * 13.8;
  mk('line', {x1:255, x2:277, y1:yy, y2:yy, stroke:methodColors[i], 'stroke-width':2.2}, 'legend-line-' + slug(name), legendGroup);
  label(name, {x:286.6, y:yy+4, 'font-size':11, class:'ls'}, 'legend-label-' + slug(name), legendGroup);
});

/* ---------- panel f ---------- */
const allDots = methods.map((_, m) => tumorDots[m].concat(stromaDots[m], immuneDots[m]));
const facetMeans = [tumorMeans, stromaMeans, immuneMeans, allMeans];
const facetErrors = [tumorErrors, stromaErrors, immuneErrors, allErrors];
const facetStars = [tumorStars, stromaStars, immuneStars, allStars];
const facetDots = [tumorDots, stromaDots, immuneDots, allDots];
const facetLayout = [[97.3,392,113.8,26.25],[403,697.7,419.6,26.2],[709,1004,725.5,26.25],[1016,1309.7,1032,26.2]];
const auc = v => 1522.7 - v * 264.7;
(function(){
  const root = document.getElementById('panelF');
  mk('line', {x1:97.8, x2:97.8, y1:1245, y2:1535, stroke:'#000', 'stroke-width':1.6}, 'auc-y-axis', root);
  aucTicks.forEach(t => {
    mk('line', {x1:93, x2:97.8, y1:auc(t), y2:auc(t), stroke:'#222', 'stroke-width':1.2}, 'auc-y-tick', root);
    label(t.toFixed(2), {x:86, y:auc(t)+5.5, 'text-anchor':'end', 'font-size':15, class:'ls'}, 'auc-y-tick-label', root);
  });
  facetNames.forEach((facet, fi) => {
    const L = facetLayout[fi], g = mk('g', {}, 'facet-' + slug(facet), root);
    mk('rect', {x:L[0], y:1208.3, width:L[1]-L[0], height:37.4, fill:'#d9d9d9'}, 'facet-strip', g);
    label(facet, {x:(L[0]+L[1])/2, y:1233, 'text-anchor':'middle', 'font-size':18, class:'ls'}, 'facet-title', g);
    mk('line', {x1:L[0], x2:L[1], y1:auc(.5), y2:auc(.5), stroke:'#b8b8b8', 'stroke-width':2}, 'reference-line-0-5', g);
    methods.forEach((m, i) => {
      const cx = L[2] + i * L[3], c = methodColors[i], v = facetMeans[fi][i], s = slug(m);
      mk('rect', {x:cx-8, y:auc(v), width:16, height:auc(0)-auc(v), fill:c}, 'bar-' + s, g);
    });
    methods.forEach((m, i) => {
      const cx = L[2] + i * L[3], c = methodColors[i], s = slug(m);
      const dg = mk('g', {fill:c, 'fill-opacity':.85, stroke:'#111', 'stroke-width':1.8}, 'dots-' + s, g);
      facetDots[fi][i].forEach((d, k) => {
        const off = (frac((k + 1) * 0.61803) - .5) * 16;
        mk('circle', {cx:(cx+off).toFixed(1), cy:auc(d).toFixed(1), r:4.2}, 'auc-dot-' + s, dg);
      });
    });
    methods.forEach((m, i) => {
      const cx = L[2] + i * L[3], v = facetMeans[fi][i], e = facetErrors[fi][i], s = slug(m);
      mk('line', {x1:cx, x2:cx, y1:auc(v+e), y2:auc(v-e), stroke:'#000', 'stroke-width':4.2}, 'error-bar-' + s, g);
      mk('line', {x1:cx-4, x2:cx+4, y1:auc(v+e), y2:auc(v+e), stroke:'#000', 'stroke-width':4.5}, 'error-cap-top-' + s, g);
      mk('line', {x1:cx-4, x2:cx+4, y1:auc(v-e), y2:auc(v-e), stroke:'#000', 'stroke-width':4.5}, 'error-cap-bottom-' + s, g);
      if (facetStars[fi][i]) {
        label('*', {x:cx, y:1513, 'text-anchor':'middle', 'font-size':17, 'font-weight':'bold', style:'font-family:"Liberation Sans",sans-serif;fill:#fff'}, 'significance-star-' + s, g);
      }
      mk('line', {x1:cx, x2:cx, y1:1536, y2:1541, stroke:'#444', 'stroke-width':1.6}, 'x-tick-' + s, g);
      label(m, {transform:`translate(${cx+7} 1556) rotate(-38)`, 'text-anchor':'end', 'font-size':15, class:'ls'}, 'x-tick-label-' + s, g);
    });
  });
})();
</script>
</svg>
</body>
</html>
